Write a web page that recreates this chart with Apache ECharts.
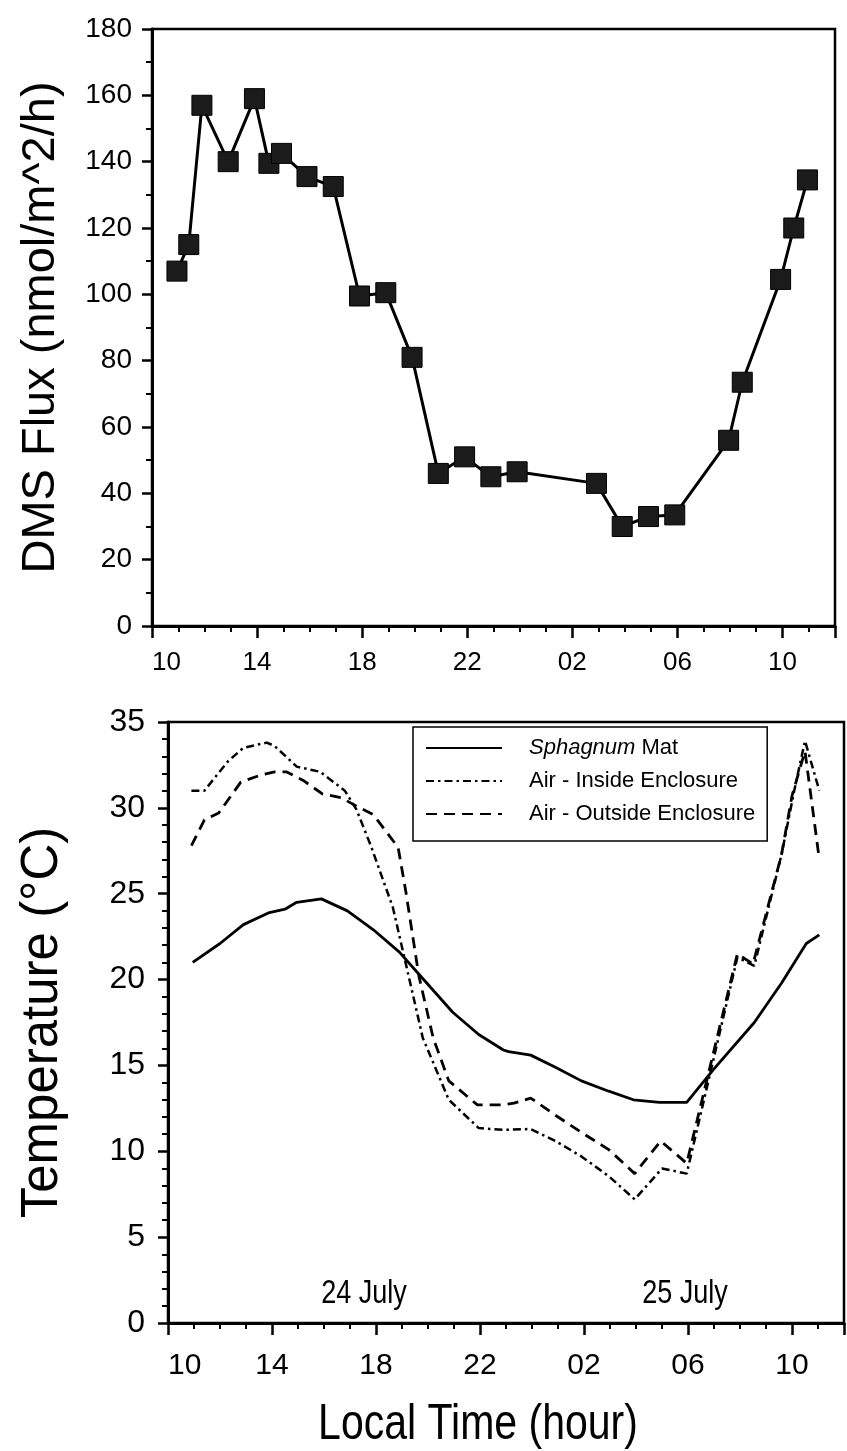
<!DOCTYPE html>
<html>
<head>
<meta charset="utf-8">
<title>DMS flux and temperature, 24–25 July</title>
<script src="https://cdn.jsdelivr.net/npm/echarts@6/dist/echarts.min.js"></script>
<style>
  html, body { margin: 0; padding: 0; background: #fff; }
  #chart { width: 847px; height: 1451px; }
</style>
</head>
<body>
<div id="chart"></div>
<script>
// Time axis is in hours counted from midnight of 24 July (26 = 02:00 on 25 July).
const hourTickLabels = ['10', '14', '18', '22', '02', '06', '10'];

// Upper panel: DMS emission from the enclosure
const fluxHours  = [10.95, 11.4, 11.9, 12.9, 13.9, 14.45, 14.93, 15.9, 16.9, 17.9, 18.9, 19.9,
                    20.9, 21.9, 22.9, 23.9, 26.92, 27.9, 28.9, 29.9, 31.95, 32.47, 33.93, 34.43, 34.95];
const fluxValues = [107, 115, 157, 140, 159, 139.5, 142.5, 135.5, 132.5, 99.5, 100.5, 81,
                    46, 51, 45, 46.5, 43, 30, 33, 33.5, 56, 73.5, 104.5, 120, 134.5];

// Lower panel: temperatures
const matHours = [10.95, 12, 12.9, 13.9, 14.5, 14.95, 15.9, 16.9, 17.9, 18.9, 19.6, 20.95, 21.95,
                  22.9, 23.1, 23.95, 24.9, 25.9, 26.95, 27.9, 28.9, 29.95, 31.0, 32.55, 33.6, 34.55, 35.05];
const matTemps = [21.0, 22.1, 23.2, 23.9, 24.1, 24.5, 24.7, 24.0, 22.9, 21.6, 20.4, 18.1, 16.8,
                  15.9, 15.8, 15.6, 14.9, 14.1, 13.5, 13.0, 12.85, 12.85, 14.8, 17.5, 19.8, 22.1, 22.6];

const insideHours = [10.9, 11.4, 12.3, 12.9, 13.8, 14.1, 14.6, 14.95, 15.85, 16.8, 17.25, 17.8, 18.65,
                     19.15, 19.8, 20.8, 21.95, 22.9, 23.95, 24.9, 25.9, 26.95, 27.95, 29.0, 29.95,
                     31.9, 32.55, 33.6, 34.1, 34.5, 35.05];
const insideTemps = [31.0, 31.0, 32.7, 33.5, 33.8, 33.6, 32.9, 32.4, 32.1, 31.0, 29.9, 27.8, 24.2,
                     20.9, 16.6, 13.0, 11.35, 11.25, 11.3, 10.6, 9.7, 8.55, 7.2, 9.0, 8.7,
                     21.3, 20.8, 27.3, 31.1, 33.9, 31.0];

const outsideHours = [10.9, 11.4, 11.95, 12.8, 13.55, 14.1, 14.55, 15.2, 15.95, 16.65, 17.25, 17.9,
                      18.5, 18.85, 19.15, 19.65, 20.2, 20.8, 21.9, 22.9, 23.3, 23.95, 24.9, 25.9,
                      26.95, 27.95, 28.95, 29.95, 31.9, 32.5, 33.6, 34.0, 34.5, 35.05];
const outsideTemps = [27.8, 29.3, 29.7, 31.5, 31.9, 32.1, 32.1, 31.6, 30.8, 30.6, 30.1, 29.6,
                      28.4, 27.7, 25.1, 20.2, 16.6, 14.1, 12.7, 12.7, 12.8, 13.1, 12.1, 11.1,
                      10.1, 8.7, 10.6, 9.3, 21.5, 20.9, 27.3, 30.7, 33.3, 27.0];

const seriesNames = ['Sphagnum Mat', 'Air - Inside Enclosure', 'Air - Outside Enclosure'];
const dayLabels = ['24 July', '25 July'];
const timeAxisTitle = 'Local Time (hour)';

const pairs = (xs, ys) => xs.map((x, i) => [x, ys[i]]);

const FONT = "'Liberation Sans', Arial, Helvetica, sans-serif";
const INK = '#000';
const CONDENSE = 0.82;   // horizontal squeeze for the condensed lettering under the lower panel

function hourLabel(v) {
  const idx = Math.round((v - 10) / 4);
  return (v - 10) % 4 === 0 && idx < hourTickLabels.length ? hourTickLabels[idx] : '';
}

function timeAxis(gridIndex, fontSize, margin) {
  return {
    type: 'value', gridIndex, min: 10, max: 36, interval: 4,
    axisLine: { show: true, lineStyle: { color: INK, width: 3 } },
    axisTick: { show: true, inside: false, length: 12, lineStyle: { color: INK, width: 2.5 } },
    minorTick: { show: true, splitNumber: 4, length: 6, lineStyle: { color: INK, width: 2 } },
    splitLine: { show: false },
    axisLabel: { color: INK, fontFamily: FONT, fontSize, margin, formatter: hourLabel,
                 alignMinLabel: 'left' }
  };
}

function valueAxis(gridIndex, max, interval, minorSplit, name, nameSize, nameGap, labelSize, margin) {
  return {
    type: 'value', gridIndex, min: 0, max, interval,
    name, nameLocation: 'middle', nameGap,
    nameTextStyle: { color: INK, fontFamily: FONT, fontSize: nameSize },
    axisLine: { show: true, lineStyle: { color: INK, width: 3 } },
    axisTick: { show: true, length: 10, lineStyle: { color: INK, width: 2.5 } },
    minorTick: { show: true, splitNumber: minorSplit, length: 6, lineStyle: { color: INK, width: 2 } },
    splitLine: { show: false },
    // labels sit a little above their ticks
    axisLabel: { color: INK, fontFamily: FONT, fontSize: labelSize, margin, padding: [0, 0, 16, 0] }
  };
}

function condensedText(text, x, y, size) {
  return {
    type: 'text', x, y, scaleX: CONDENSE,
    style: { text, fill: INK, font: `${size}px ${FONT}`, textAlign: 'center', textVerticalAlign: 'middle' }
  };
}

const chart = echarts.init(document.getElementById('chart'), null, { renderer: 'canvas' });

chart.setOption({
  backgroundColor: '#fff',
  animation: false,
  grid: [
    { left: 152, top: 29, width: 683, height: 597, show: true, borderColor: INK, borderWidth: 2.5 },
    { left: 168, top: 722, width: 678, height: 601, show: true, borderColor: INK, borderWidth: 2.5 }
  ],
  xAxis: [
    timeAxis(0, 26, 24),
    timeAxis(1, 30, 28)
  ],
  yAxis: [
    valueAxis(0, 180, 20, 2, 'DMS Flux (nmol/m^2/h)', 47, 87, 28, 20),
    valueAxis(1, 35, 5, 5, 'Temperature (°C)', 51, 100, 32, 23)
  ],
  legend: {
    data: seriesNames,
    orient: 'vertical', left: 413, top: 727,
    itemWidth: 76, itemHeight: 14, itemGap: 11,
    padding: [10, 12, 16, 12],
    borderColor: INK, borderWidth: 1.5,
    selectedMode: false,
    itemStyle: { opacity: 0 },
    formatter: name => name === seriesNames[0] ? '{i|Sphagnum} Mat' : name,
    textStyle: {
      color: INK, fontFamily: FONT, fontSize: 22, padding: [0, 0, 0, 22],
      rich: { i: { fontStyle: 'italic', fontFamily: FONT, fontSize: 22, color: INK } }
    }
  },
  graphic: [
    condensedText(dayLabels[0], 364, 1294, 33),
    condensedText(dayLabels[1], 685, 1294, 33),
    condensedText(timeAxisTitle, 478, 1425, 50)
  ],
  series: [
    {
      name: 'DMS Flux', type: 'line', xAxisIndex: 0, yAxisIndex: 0,
      data: pairs(fluxHours, fluxValues),
      symbol: 'rect', symbolSize: 20, showSymbol: true,
      lineStyle: { color: INK, width: 3 },
      itemStyle: { color: '#1b1b1b', borderColor: INK, borderWidth: 1 },
      z: 3
    },
    {
      name: seriesNames[0], type: 'line', xAxisIndex: 1, yAxisIndex: 1,
      data: pairs(matHours, matTemps), symbol: 'none', showSymbol: false,
      lineStyle: { color: INK, width: 2.8, type: 'solid' }, itemStyle: { color: INK }
    },
    {
      name: seriesNames[1], type: 'line', xAxisIndex: 1, yAxisIndex: 1,
      data: pairs(insideHours, insideTemps), symbol: 'none', showSymbol: false,
      lineStyle: { color: INK, width: 2.5, type: [8, 4, 2.5, 4] }, itemStyle: { color: INK }
    },
    {
      name: seriesNames[2], type: 'line', xAxisIndex: 1, yAxisIndex: 1,
      data: pairs(outsideHours, outsideTemps), symbol: 'none', showSymbol: false,
      lineStyle: { color: INK, width: 2.8, type: [11, 7] }, itemStyle: { color: INK }
    }
  ]
});
</script>
</body>
</html>
